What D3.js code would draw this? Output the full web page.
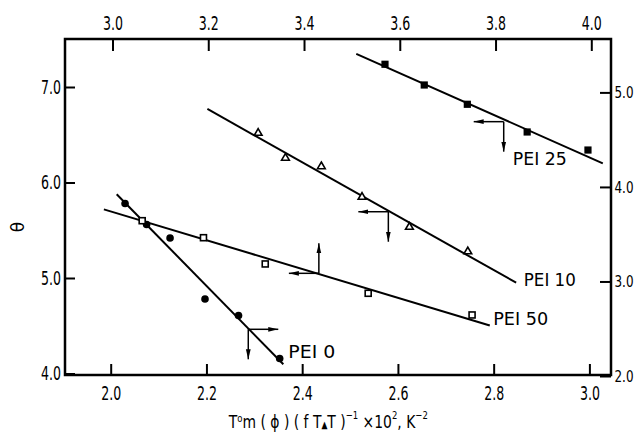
<!DOCTYPE html>
<html><head><meta charset="utf-8">
<script src="https://cdn.jsdelivr.net/npm/d3@7"></script>
<style>body{margin:0;background:#fff}</style>
</head><body>
<svg id="c" width="638" height="435"></svg>
<script>
// ---------- data ----------
const seriesNames = ["PEI 0", "PEI 10", "PEI 25", "PEI 50"];
const pei0X  = [2.030, 2.075, 2.124, 2.197, 2.267, 2.353];   // bottom axis
const pei0Y  = [3.825, 3.603, 3.460, 2.815, 2.640, 2.185];   // right axis
const pei10X = [2.308, 2.365, 2.440, 2.525, 2.624, 2.746];   // bottom axis
const pei10Y = [6.518, 6.257, 6.168, 5.848, 5.534, 5.277];   // left axis
const pei25X = [2.573, 2.655, 2.745, 2.870, 2.997];          // bottom axis
const pei25Y = [7.238, 7.021, 6.819, 6.529, 6.340];          // left axis
const pei50X = [3.062, 3.190, 3.319, 3.534, 3.751];          // top axis
const pei50Y = [5.600, 5.422, 5.147, 4.840, 4.613];          // left axis
// fitted straight lines: [x start, y start, x end, y end]
const pei0Fit  = [2.0125, 3.922, 2.3606, 2.124];
const pei10Fit = [2.202, 6.770, 2.847, 4.951];
const pei25Fit = [2.513, 7.346, 3.028, 6.201];
const pei50Fit = [2.982, 5.719, 3.788, 4.503];
// axis-indicator arrow origins [x, y]
const pei0Arrow  = [2.2874, 2.494];
const pei10Arrow = [2.580, 5.694];
const pei25Arrow = [2.821, 6.637];
const pei50Arrow = [3.431, 5.049];
// label anchors [x, y]
const pei0Label  = [2.371, 2.187];
const pei10Label = [2.863, 4.916];
const pei25Label = [2.840, 6.183];
const pei50Label = [3.795, 4.508];
// ticks
const bottomTicks = [2.0, 2.2, 2.4, 2.6, 2.8, 3.0];
const topTicks    = [3.0, 3.2, 3.4, 3.6, 3.8, 4.0];
const leftTicks   = [4.0, 5.0, 6.0, 7.0];
const rightTicks  = [2.0, 3.0, 4.0, 5.0];

// ---------- layout ----------
const FONT = "'DejaVu Sans Condensed','DejaVu Sans',sans-serif";
const L = 65, R = 611, T = 39, B = 375;
const svg = d3.select("#c");

const xB = d3.scaleLinear().domain([2, 3]).range([110.7, 589.4]);
const xT = d3.scaleLinear().domain([3, 4]).range([112.5, 591.3]);
const yL = d3.scaleLinear().domain([4, 7]).range([373.5, 87]);
const yR = d3.scaleLinear().domain([2, 5]).range([376, 92.4]);

const fmt = d3.format(".1f");
function styleAxis(g, len, size) {
  g.select(".domain").remove();
  g.selectAll(".tick line").attr("stroke", "#000").attr("stroke-width", 2);
  g.selectAll(".tick text").attr("font-family", FONT).attr("font-size", size).attr("fill", "#000")
    .attr("textLength", len).attr("lengthAdjust", "spacingAndGlyphs");
}
svg.append("g").attr("transform", `translate(0,${B})`)
  .call(d3.axisBottom(xB).tickValues(bottomTicks).tickFormat(fmt).tickSize(-11).tickPadding(11.5))
  .call(styleAxis, 20, 19);
svg.append("g").attr("transform", `translate(0,${T})`)
  .call(d3.axisTop(xT).tickValues(topTicks).tickFormat(fmt).tickSize(-12).tickPadding(9))
  .call(styleAxis, 20, 19);
svg.append("g").attr("transform", `translate(${L},0)`)
  .call(d3.axisLeft(yL).tickValues(leftTicks).tickFormat(fmt).tickSize(-10).tickPadding(4))
  .call(styleAxis, 20, 19);
svg.append("g").attr("transform", `translate(${R},0)`)
  .call(d3.axisRight(yR).tickValues(rightTicks).tickFormat(fmt).tickSize(-11).tickPadding(3.5))
  .call(styleAxis, 19, 16);

svg.append("rect").attr("x", L).attr("y", T).attr("width", R - L).attr("height", B - T)
  .attr("fill", "none").attr("stroke", "#000").attr("stroke-width", 2.5);

// arrowhead marker
svg.append("defs").append("marker")
  .attr("id", "ah").attr("viewBox", "0 0 10 6").attr("refX", 10).attr("refY", 3)
  .attr("markerWidth", 10).attr("markerHeight", 6).attr("markerUnits", "userSpaceOnUse")
  .attr("orient", "auto")
  .append("path").attr("d", "M0,0.6 L10,3 L0,5.4 Z").attr("fill", "#000");

const labelWidths = [47, 52, 54, 55];
const series = [
  {name: seriesNames[0], xs: pei0X,  ys: pei0Y,  fit: pei0Fit,  arrow: pei0Arrow,  lab: pei0Label,  x: xB, y: yR, sym: "circle",  dirs: [[1,0],[0,1]]},
  {name: seriesNames[1], xs: pei10X, ys: pei10Y, fit: pei10Fit, arrow: pei10Arrow, lab: pei10Label, x: xB, y: yL, sym: "tri",     dirs: [[-1,0],[0,1]]},
  {name: seriesNames[2], xs: pei25X, ys: pei25Y, fit: pei25Fit, arrow: pei25Arrow, lab: pei25Label, x: xB, y: yL, sym: "fsquare", dirs: [[-1,0],[0,1]]},
  {name: seriesNames[3], xs: pei50X, ys: pei50Y, fit: pei50Fit, arrow: pei50Arrow, lab: pei50Label, x: xT, y: yL, sym: "osquare", dirs: [[-1,0],[0,-1]]}
];
const ARROW_LEN = 30;

series.forEach((s, si) => {
  const g = svg.append("g");
  g.append("line")
    .attr("x1", s.x(s.fit[0])).attr("y1", s.y(s.fit[1]))
    .attr("x2", s.x(s.fit[2])).attr("y2", s.y(s.fit[3]))
    .attr("stroke", "#000").attr("stroke-width", 2);
  const ax = s.x(s.arrow[0]), ay = s.y(s.arrow[1]);
  s.dirs.forEach(d => {
    g.append("line").attr("x1", ax).attr("y1", ay)
      .attr("x2", ax + d[0] * ARROW_LEN).attr("y2", ay + d[1] * ARROW_LEN)
      .attr("stroke", "#000").attr("stroke-width", 1.5).attr("marker-end", "url(#ah)");
  });
  const pts = s.xs.map((v, i) => [s.x(v), s.y(s.ys[i])]);
  pts.forEach(p => {
    if (s.sym === "circle") {
      g.append("circle").attr("cx", p[0]).attr("cy", p[1]).attr("r", 3.8).attr("fill", "#000");
    } else if (s.sym === "fsquare") {
      g.append("rect").attr("x", p[0] - 3.6).attr("y", p[1] - 3.6).attr("width", 7.2).attr("height", 7.2).attr("fill", "#000");
    } else if (s.sym === "osquare") {
      g.append("rect").attr("x", p[0] - 3).attr("y", p[1] - 3).attr("width", 6).attr("height", 6)
        .attr("fill", "#fff").attr("stroke", "#000").attr("stroke-width", 1.6);
    } else {
      g.append("path").attr("transform", `translate(${p[0]},${p[1]})`)
        .attr("d", d3.symbol(d3.symbolTriangle, 26)())
        .attr("fill", "#fff").attr("stroke", "#000").attr("stroke-width", 1.6);
    }
  });
  g.append("text").attr("x", s.x(s.lab[0])).attr("y", s.y(s.lab[1]))
    .attr("font-family", FONT).attr("font-size", 18).attr("fill", "#000")
    .attr("textLength", labelWidths[si]).attr("lengthAdjust", "spacingAndGlyphs")
    .text(s.name);
});

// y-axis symbol
svg.append("text").attr("transform", "translate(18,227) rotate(-90)")
  .attr("text-anchor", "middle").attr("dy", "0.35em")
  .attr("font-family", "'DejaVu Sans',sans-serif").attr("font-size", 17).text("θ");

// x-axis title (scaled horizontally to the reference width)
const titleG = svg.append("g");
const title = titleG.append("text").attr("x", 0).attr("y", 0)
  .attr("font-family", FONT).attr("font-size", 18).attr("fill", "#000");
title.append("tspan").text("T");
title.append("tspan").attr("font-size", 11).attr("dy", -6).text("o");
title.append("tspan").attr("dy", 6).text("m ( ϕ ) ( f T");
title.append("tspan").attr("font-size", 10).text("▲");
title.append("tspan").text("T )");
title.append("tspan").attr("font-size", 11).attr("dy", -9).text("−1");
title.append("tspan").attr("dy", 9).text(" ×10");
title.append("tspan").attr("font-size", 11).attr("dy", -9).text("2");
title.append("tspan").attr("dy", 9).text(", K");
title.append("tspan").attr("font-size", 11).attr("dy", -9).text("−2");
const bb = title.node().getBBox();
const sx = 200 / bb.width;
titleG.attr("transform", `translate(228,428) scale(${sx},1) translate(${-bb.x},0)`);
</script>
</body></html>
